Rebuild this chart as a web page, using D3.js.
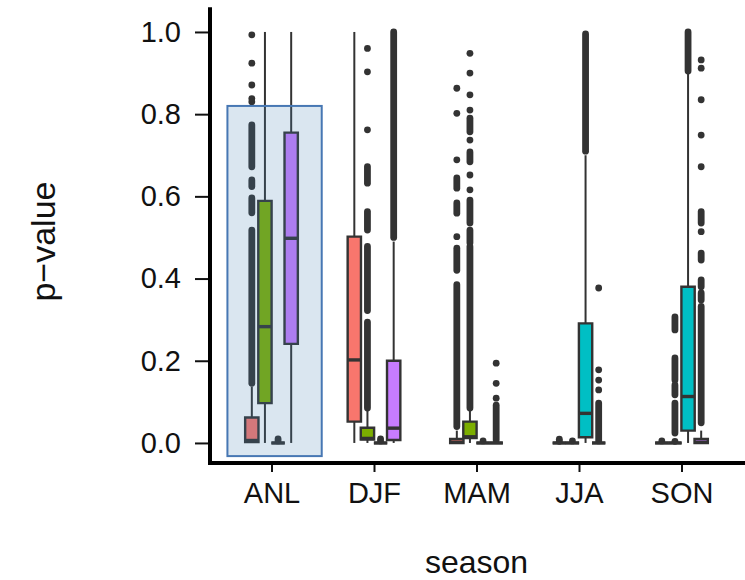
<!DOCTYPE html>
<html><head><meta charset="utf-8">
<script src="https://cdn.jsdelivr.net/npm/d3@7"></script>
<style>html,body{margin:0;padding:0;background:#fff;}svg{display:block;}</style>
</head><body>
<script>
// ---- data ----
const seasons = ["ANL", "DJF", "MAM", "JJA", "SON"];
const seriesColors = ["#F8766D", "#7CAE00", "#00BFC4", "#C77CFF"];
const yTicks = [0, 0.2, 0.4, 0.6, 0.8, 1.0];
// box stats per season: [lowerWhisker, q1, median, q3, upperWhisker]
const stats1 = [[0,0.002,0.006,0.062,0.137],[0,0.052,0.202,0.502,1.0],[0,0,0.002,0.01,0.03],[0,0,0,0,0],[0,0,0,0,0]];
const stats2 = [[0,0.097,0.283,0.589,1.0],[0,0.008,0.011,0.037,0.08],[0,0.012,0.015,0.052,0.08],[0,0,0,0,0],[0,0,0,0,0.0]];
const stats3 = [[0,0,0,0,0],[0,0,0,0,0],[0,0,0,0,0],[0,0.014,0.072,0.291,0.70],[0,0.03,0.113,0.38,0.9]];
const stats4 = [[0,0.241,0.498,0.755,1.0],[0,0.007,0.036,0.2,0.49],[0,0,0,0,0],[0,0,0,0,0],[0,0,0.002,0.01,0.03]];
// outliers per season: number = single point, [a,b] = densely overlapping points from a to b
const out1 = [
  [0.993,0.924,0.871,0.838,0.83,[0.672,0.774],[0.624,0.64],[0.56,0.596],[0.145,0.518]],
  [],
  [0.863,0.802,0.689,[0.62,0.645],[0.559,0.584],0.502,[0.42,0.474],[0.04,0.385]],
  [0.004,0.009],
  [0.005]
];
const out2 = [
  [],
  [0.96,0.903,0.762,[0.632,0.672],[0.518,0.563],[0.322,0.478],[0.085,0.294]],
  [0.948,0.9,0.847,0.81,[0.757,0.79],0.737,[0.684,0.708],0.652,0.616,[0.535,0.591],[0.487,0.518],[0.085,0.478]],
  [0.005],
  [[0.275,0.307],[0.153,0.207],[0.117,0.141],[0.024,0.097],0.004]
];
const out3 = [
  [0.005,0.01],
  [0.005,0.01],
  [0.005],
  [[0.71,0.995]],
  [[0.905,1.0]]
];
const out4 = [
  [],
  [[0.5,1.0]],
  [0.194,0.145,0.109,[0.007,0.092]],
  [0.377,0.178,0.153,0.129,[0.005,0.097]],
  [0.932,0.912,0.835,0.749,0.672,[0.535,0.563],0.514,[0.445,0.462],[0.38,0.397],[0.348,0.365],[0.049,0.332]]
];
const allStats = [stats1, stats2, stats3, stats4];
const allOut = [out1, out2, out3, out4];
// highlight rectangle (category offsets relative to ANL, and p-value range)
const highlightX = [-0.43, 0.49];
const highlightY = [-0.032, 0.82];

// ---- drawing ----
const W = 745, H = 580;
const svg = d3.select("body").append("svg").attr("width", W).attr("height", H);

const x = d3.scalePoint().domain(seasons).range([210, 743]).padding(0.6);
const y = d3.scaleLinear().domain([-0.05, 1.06]).range([463.5, 7.3]);
const step = x.step();
const dodge = 0.128 * step;
const boxW = 0.13 * step;
const dark = "#333333";

const g = svg.append("g");

allStats.forEach((st, si) => {
  st.forEach((s, ci) => {
    const cx = x(seasons[ci]) + (si - 1.5) * dodge;
    const [lo, q1, med, q3, hi] = s;
    const gg = g.append("g");
    // whiskers
    gg.append("line").attr("x1", cx).attr("x2", cx).attr("y1", y(hi)).attr("y2", y(q3))
      .attr("stroke", dark).attr("stroke-width", 2);
    gg.append("line").attr("x1", cx).attr("x2", cx).attr("y1", y(q1)).attr("y2", y(lo))
      .attr("stroke", dark).attr("stroke-width", 2);
    // outliers
    allOut[si][ci].forEach(o => {
      if (Array.isArray(o)) {
        gg.append("line").attr("x1", cx).attr("x2", cx).attr("y1", y(o[0])).attr("y2", y(o[1]))
          .attr("stroke", dark).attr("stroke-width", 6.8).attr("stroke-linecap", "round");
      } else {
        gg.append("circle").attr("cx", cx).attr("cy", y(o)).attr("r", 3.4).attr("fill", dark);
      }
    });
    // box
    const x0 = cx - boxW / 2, x1 = cx + boxW / 2;
    gg.append("path").attr("d", `M${x0},${y(q3)}H${x1}V${y(q1)}H${x0}Z`)
      .attr("fill", seriesColors[si]).attr("stroke", dark).attr("stroke-width", 2.4);
    gg.append("line").attr("x1", x0).attr("x2", x1).attr("y1", y(med)).attr("y2", y(med))
      .attr("stroke", dark).attr("stroke-width", 3.4);
  });
});

// highlight rectangle
const hx0 = x("ANL") + highlightX[0] * step, hx1 = x("ANL") + highlightX[1] * step;
svg.append("rect").attr("x", hx0).attr("y", y(highlightY[1]))
  .attr("width", hx1 - hx0).attr("height", y(highlightY[0]) - y(highlightY[1]))
  .attr("fill", "#4682b4").attr("fill-opacity", 0.2)
  .attr("stroke", "#4777b3").attr("stroke-width", 2);

// axes
const font = "Liberation Sans, Arial, sans-serif";
const yAxis = svg.append("g").attr("transform", "translate(210,0)")
  .call(d3.axisLeft(y).tickValues(yTicks).tickFormat(d3.format(".1f")).tickSize(15).tickPadding(14).tickSizeOuter(0));
yAxis.select(".domain").remove();
yAxis.selectAll(".tick line").attr("stroke", "#111").attr("stroke-width", 2);
yAxis.selectAll(".tick text").attr("font-family", font).attr("font-size", 29).attr("fill", "#111");

const xAxis = svg.append("g").attr("transform", "translate(0,463)")
  .call(d3.axisBottom(x).tickSize(9).tickPadding(10).tickSizeOuter(0));
xAxis.select(".domain").remove();
xAxis.selectAll(".tick line").attr("stroke", "#111").attr("stroke-width", 2);
xAxis.selectAll(".tick text").attr("font-family", font).attr("font-size", 29).attr("fill", "#111");

// axis lines
svg.append("line").attr("x1", 210).attr("x2", 210).attr("y1", y(1.06)).attr("y2", 465)
  .attr("stroke", "#000").attr("stroke-width", 4);
svg.append("line").attr("x1", 208).attr("x2", W).attr("y1", 463).attr("y2", 463)
  .attr("stroke", "#000").attr("stroke-width", 4);

// titles
svg.append("text").attr("x", x("MAM")).attr("y", 573).attr("text-anchor", "middle")
  .attr("font-family", font).attr("font-size", 32).attr("fill", "#111").text("season");
svg.append("text").attr("transform", `translate(55,${y(0.49)}) rotate(-90)`).attr("text-anchor", "middle")
  .attr("font-family", font).attr("font-size", 34).attr("fill", "#111").text("p−value");
</script>
</body></html>
